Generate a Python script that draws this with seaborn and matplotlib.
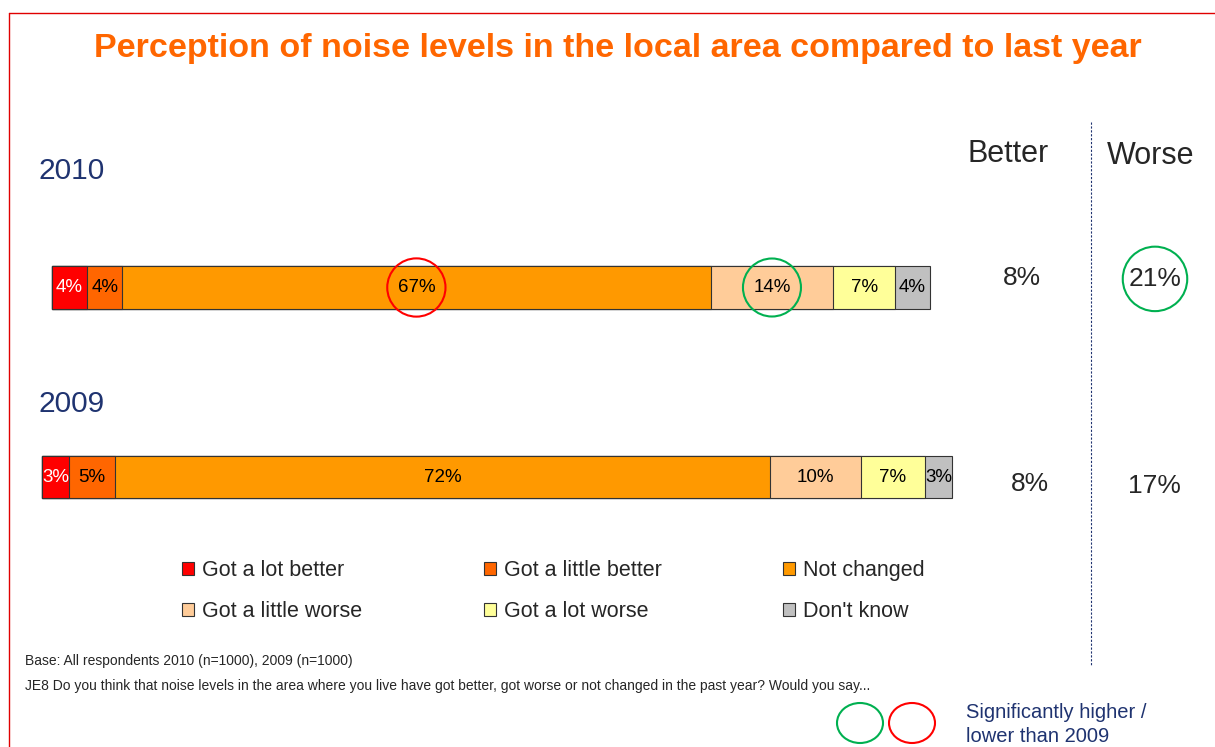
import seaborn as sns
import matplotlib.pyplot as plt
import matplotlib.patches as mpatches
import matplotlib.transforms as mtransforms
from matplotlib.lines import Line2D
import pandas as pd

# data
categories = ["Got a lot better", "Got a little better", "Not changed",
              "Got a little worse", "Got a lot worse", "Don't know"]
years = ["2010", "2009"]
values_2010 = [4, 4, 67, 14, 7, 4]
values_2009 = [3, 5, 72, 10, 7, 3]
# significant differences vs 2009 (only 2010 is marked)
sig_segments = {"2010": {"Not changed": "lower", "Got a little worse": "higher"}, "2009": {}}
sig_worse = {"2010": "higher", "2009": None}

colors = ["#FF0000", "#FF6600", "#FF9900", "#FFCC99", "#FFFF99", "#C0C0C0"]
navy = "#1F3370"
edge = "#333333"
sig_colors = {"higher": "#00B050", "lower": "#FF0000"}

sns.set_style("white")
plt.rcParams['font.family'] = ['Liberation Sans', 'DejaVu Sans']

W, H = 1215, 747
def fx(px):
    return px / W
def fy(py):
    return 1 - py / H

fig = plt.figure(figsize=(W / 100, H / 100), dpi=100)

# slide frame
fig.add_artist(Line2D([fx(9), fx(9)], [0, fy(13)], color="#E00000", lw=1))
fig.add_artist(Line2D([fx(9), 1], [fy(13), fy(13)], color="#E00000", lw=1))

fig.text(fx(618), fy(48), "Perception of noise levels in the local area compared to last year",
         ha="center", va="center", fontsize=24.5, fontweight="bold", color="#FF6600")

# bar axes boxes (left, top, right, bottom in px) and label / summary positions
bar_boxes = {"2010": (52, 266, 930, 309), "2009": (42, 456, 952, 498)}
year_label_y = {"2010": 171, "2009": 404}
better_pos = {"2010": (1022, 0.72), "2009": (1030, 0.34)}
worse_pos = {"2010": (1155, 0.70), "2009": (1154, 0.29)}

for year, vals in zip(years, [values_2010, values_2009]):
    l, t, r, b = bar_boxes[year]
    ax = fig.add_axes([fx(l), fy(b), (r - l) / W, (b - t) / H])
    df = pd.DataFrame({"category": categories, "value": vals})
    df["cum"] = df["value"].cumsum()
    df["year"] = year
    sns.barplot(data=df, x="cum", y="year", hue="category", hue_order=categories[::-1],
                palette=dict(zip(categories, colors)), dodge=False, width=1, saturation=1,
                edgecolor=edge, linewidth=0.8, legend=False, orient="h", ax=ax)
    for p in ax.patches:
        p.set_clip_on(False)
    ax.set_xlim(0, 100)
    ax.set_ylim(0.5, -0.5)
    ax.axis("off")

    lefts = df["cum"] - df["value"]
    for cat, v, x0 in zip(categories, df["value"], lefts):
        kw = {}
        s = sig_segments[year].get(cat)
        if s:
            kw["bbox"] = dict(boxstyle="circle,pad=0.55", fc="none", ec=sig_colors[s], lw=1.5)
        ax.text(x0 + v / 2, 0, f"{v}%", ha="center", va="center", fontsize=13.5,
                color="white" if cat == categories[0] else "black", **kw)

    fig.text(fx(38), fy(year_label_y[year]), year, ha="left", va="center", fontsize=21.5, color=navy)

    trans = mtransforms.blended_transform_factory(fig.transFigure, ax.transAxes)
    better = vals[0] + vals[1]
    worse = vals[3] + vals[4]
    bx, by = better_pos[year]
    ax.text(fx(bx), by, f"{better}%", transform=trans, ha="center", va="center", fontsize=19)
    wx, wy = worse_pos[year]
    kw = {}
    if sig_worse[year]:
        kw["bbox"] = dict(boxstyle="circle,pad=0.22", fc="none", ec=sig_colors[sig_worse[year]], lw=1.5)
    ax.text(fx(wx), wy, f"{worse}%", transform=trans, ha="center", va="center", fontsize=19, **kw)

fig.text(fx(1008), fy(154), "Better", ha="center", va="center", fontsize=22)
fig.text(fx(1151), fy(156), "Worse", ha="center", va="center", fontsize=22)
fig.add_artist(Line2D([fx(1091), fx(1091)], [fy(122), fy(665)], ls=(0, (2, 1.5)), color=navy, lw=0.8))

# legend, row-major order
handles = [mpatches.Patch(facecolor=c, edgecolor=edge, lw=0.8, label=cat)
           for cat, c in zip(categories, colors)]
order = [0, 3, 1, 4, 2, 5]
fig.legend(handles=[handles[i] for i in order], loc="upper left", bbox_to_anchor=(fx(182), fy(560)),
           ncol=3, frameon=False, fontsize=15.5, handlelength=0.56, handleheight=0.56,
           handletextpad=0.37, columnspacing=5.65, labelspacing=0.95, borderpad=0, borderaxespad=0)

fig.text(fx(25), fy(661), "Base: All respondents 2010 (n=1000), 2009 (n=1000)", va="center", fontsize=10)
fig.text(fx(25), fy(686), "JE8 Do you think that noise levels in the area where you live have got better, "
         "got worse or not changed in the past year? Would you say...", va="center", fontsize=10)

fig.add_artist(mpatches.Ellipse((fx(860), fy(723)), 46 / W, 40 / H, transform=fig.transFigure,
                                fill=False, ec=sig_colors["higher"], lw=1.5))
fig.add_artist(mpatches.Ellipse((fx(912), fy(723)), 46 / W, 40 / H, transform=fig.transFigure,
                                fill=False, ec=sig_colors["lower"], lw=1.5))
fig.text(fx(966), fy(713), "Significantly higher /", va="center", fontsize=14.5, color=navy)
fig.text(fx(966), fy(736), "lower than 2009", va="center", fontsize=14.5, color=navy)

fig.savefig("out.png", dpi=100)
